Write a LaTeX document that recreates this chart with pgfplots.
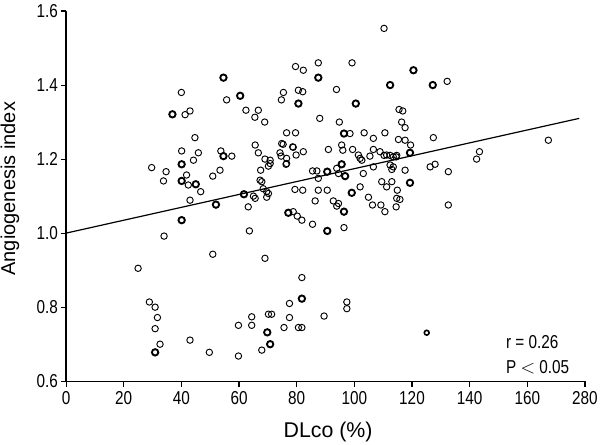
\documentclass[border=0pt]{standalone}
\usepackage{fontspec}
\setmainfont{Liberation Sans}
\newfontfamily\narrowfont{Liberation Sans}[FakeStretch=0.82]
\usepackage{pgfplots}
\pgfplotsset{compat=1.18}

\begin{document}
\begin{tikzpicture}
\begin{axis}[
  scale only axis,
  width=389pt, height=277.5pt,
  xmin=0, xmax=180, ymin=0.6, ymax=1.6,
  axis x line*=bottom, axis y line*=left,
  axis line style={-, line width=0.9pt},
  tick align=outside, major tick length=4pt,
  tick style={black, line width=0.8pt},
  xtick={0,20,...,180},
  xticklabels={0,20,40,60,80,100,120,140,160,280},
  ytick={0.6,0.8,...,1.61},
  yticklabel style={xshift=1.5pt, /pgf/number format/.cd, fixed, fixed zerofill, precision=1},
  /pgf/number format/assume math mode=true,
  tick label style={font=\narrowfont\fontsize{14}{16}\selectfont},
  xlabel={DLco (\%)},
  ylabel={Angiogenesis index},
  xlabel style={font=\fontsize{16}{18}\selectfont, at={(axis description cs:0.505,-0.138)}, anchor=center},
  ylabel style={font=\fontsize{15}{17}\selectfont, at={(axis description cs:-0.108,0.52)}, anchor=center},
  clip=false,
]
% regression line
\addplot[black, line width=0.9pt] coordinates {(0,1.0) (178,1.31)};

% thin circles
\addplot[only marks, mark=o, mark size=2.4pt, mark options={line width=0.7pt, black}] coordinates {
(110.3,1.553)
(79.6,1.45) (82.3,1.44) (87.5,1.46) (99.2,1.46) (132.2,1.41)
(40.0,1.38) (55.7,1.36) (75.4,1.38) (74.7,1.36) (80.6,1.386) (82.1,1.382) (93.8,1.388)
(41.3,1.32) (43,1.33) (62.4,1.332) (66.7,1.332) (65.5,1.313) (68.9,1.30) (88,1.31) (94.8,1.30)
(115.5,1.334) (116.8,1.33) (116.4,1.30) (117.6,1.285)
(44.7,1.258) (76.5,1.271) (79.6,1.271) (98.5,1.269) (103.4,1.271) (106.6,1.256) (110.6,1.271)
(115.3,1.253) (117.6,1.251) (127.4,1.258) (167.3,1.251)
(65.6,1.238) (74.8,1.242) (75.3,1.24) (78.6,1.233) (66.7,1.217) (74.2,1.217) (53.7,1.222)
(57.5,1.208) (40.1,1.222) (45.9,1.217) (44.2,1.197)
(78.8,1.232) (79.8,1.211) (82.3,1.22) (91,1.226) (95.6,1.238) (96,1.224) (99.4,1.226)
(101.4,1.211) (102,1.202) (105.4,1.208) (106.6,1.226) (108.9,1.22) (111.2,1.211) (113.5,1.206)
(114.5,1.206) (110.3,1.21) (112.4,1.21) (114.7,1.21) (119.5,1.238)
(143.4,1.22) (142.4,1.2)
(70.8,1.197) (70.2,1.181) (76.5,1.202) (69,1.2) (70.8,1.188) (76.5,1.188) (74.6,1.208) (76.3,1.186) (67.5,1.17)
(29.7,1.177) (34.7,1.166) (33.8,1.141) (41.8,1.157) (42.4,1.13) (46.7,1.112) (50.9,1.154) (53.4,1.17) (43,1.089)
(85.5,1.168) (87,1.168) (93.9,1.175) (102.6,1.197) (106.6,1.179) (112.4,1.184) (113,1.172) (117.6,1.17)
(113.5,1.179) (126.3,1.179) (128,1.186) (132.6,1.166)
(87.5,1.148) (94.5,1.161) (103.1,1.161)
(79.4,1.118) (82.1,1.116) (87.5,1.116) (90.6,1.116) (102,1.125) (109.5,1.139) (111.2,1.125) (113,1.139) (114.9,1.116)
(114.7,1.094) (115.8,1.091) (104.9,1.097) (86.4,1.087) (92.7,1.087) (94.5,1.08) (93.9,1.073)
(106.3,1.076) (109.2,1.076) (110.6,1.058) (114.5,1.071) (132.6,1.076)
(78.8,1.058) (80.2,1.046) (81.8,1.035) (85.5,1.024) (96.4,1.015)
(65,1.10) (65.6,1.094) (67.9,1.139) (68.4,1.12) (69.6,1.112) (69.6,1.097) (63.2,1.071) (63.6,1.006)
(67.3,1.143) (70.2,1.107) (69,0.932)
(34,0.992) (50.9,0.943) (25,0.905) (28.9,0.814) (30.9,0.80) (31.7,0.772) (30.9,0.742) (32.6,0.70)
(43,0.711) (49.7,0.678) (59.8,0.751) (59.8,0.668)
(81.8,0.88) (77.5,0.81) (97.4,0.814) (97.4,0.796) (70.2,0.781) (71.3,0.781) (64.4,0.774) (64.4,0.751)
(77.5,0.772) (75.6,0.745) (80.6,0.745) (81.8,0.745) (89.5,0.776) (67.9,0.684)
};

% bold circles
\addplot[only marks, mark=o, mark size=2.4pt, mark options={line width=1.4pt, black}] coordinates {
(54.6,1.42) (87.5,1.42) (112.4,1.40) (120.5,1.44) (127.2,1.40) (60.4,1.371) (36.9,1.321)
(80.6,1.35) (100.5,1.35) (40.1,1.186) (54.6,1.208) (45,1.132) (40.1,1.141) (95.6,1.186)
(90.6,1.166) (96.8,1.154) (119.3,1.217) (119.3,1.136) (99.1,1.109) (61.7,1.105) (52,1.077)
(77.1,1.055) (40.1,1.035) (90.6,1.006) (96.4,1.058) (81.8,0.823) (69.8,0.732) (70.8,0.70)
(30.9,0.678) (96.4,1.269)
};
\addplot[only marks, mark=o, mark size=1.8pt, mark options={line width=1.2pt, black}] coordinates {
(125.1,0.731)
};

\node[anchor=base west, font=\narrowfont\fontsize{14}{16}\selectfont] at (axis cs:151,0.688) {r = 0.26};
\node[anchor=base west, font=\narrowfont\fontsize{14}{16}\selectfont] at (axis cs:151,0.622) {P $<$ 0.05};
\end{axis}
\pgfresetboundingbox
\useasboundingbox (-49.5pt,-47.25pt) rectangle (400.25pt,285.75pt);
\end{tikzpicture}
\end{document}
